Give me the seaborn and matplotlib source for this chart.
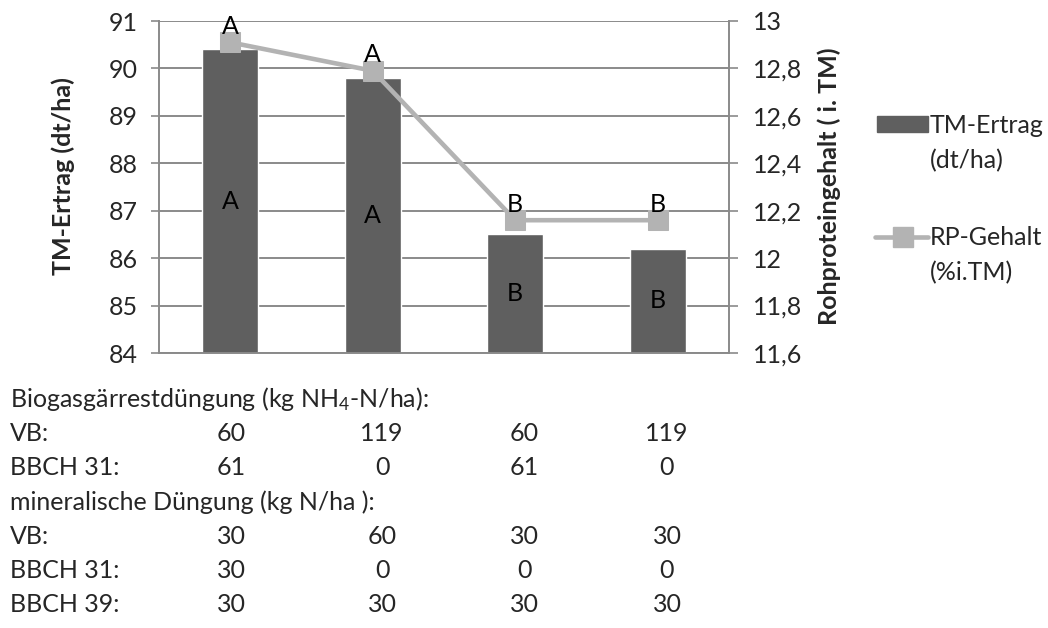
import numpy as np
import pandas as pd
import matplotlib
matplotlib.use("Agg")
import matplotlib.pyplot as plt
import seaborn as sns
from matplotlib.lines import Line2D
from matplotlib.patches import Rectangle

# --- data -------------------------------------------------------------
varianten = ["V1", "V2", "V3", "V4"]
tm_ertrag = [90.4, 89.8, 86.5, 86.2]          # dt/ha, left axis
rp_gehalt = [12.91, 12.79, 12.16, 12.16]      # % i. TM, right axis
tm_gruppen = ["A", "A", "B", "B"]
rp_gruppen = ["A", "A", "B", "B"]

links_ticks = [84, 85, 86, 87, 88, 89, 90, 91]
rechts_ticks = [11.6, 11.8, 12.0, 12.2, 12.4, 12.6, 12.8, 13.0]

# fertilisation scheme printed under the chart
bio_titel = "Biogasgärrestdüngung (kg $\\mathregular{NH_4}$-N/ha):"
bio_vb = [60, 119, 60, 119]
bio_bbch31 = [61, 0, 61, 0]
min_titel = "mineralische Düngung (kg N/ha ):"
min_vb = [30, 60, 30, 30]
min_bbch31 = [30, 0, 0, 0]
min_bbch39 = [30, 30, 30, 30]

# --- style ------------------------------------------------------------
W, H = 1048, 628
FONT = "Lato"
FS = 18
BAR_C = "#5f5f5f"
LINE_C = "#b3b3b3"
GRID_C = "#8a8a8a"

sns.set_theme(style="white")
plt.rcParams["font.family"] = [FONT, "DejaVu Sans"]
plt.rcParams["mathtext.fontset"] = "custom"
plt.rcParams["mathtext.rm"] = FONT
plt.rcParams["font.size"] = FS


def fx(px):
    return px / W


def fy(py):
    return 1 - py / H


fig = plt.figure(figsize=(W / 100, H / 100), dpi=100)
ax = fig.add_axes([fx(159), fy(353), fx(570), 332 / H])

df = pd.DataFrame({"Variante": varianten, "TM": tm_ertrag})
sns.barplot(data=df, x="Variante", y="TM", color=BAR_C, saturation=1,
            width=0.39, ax=ax, zorder=2)
ax.set_ylim(84, 91)
ax.set_yticks(links_ticks)
ax.set_yticklabels([str(t) for t in links_ticks])
ax.set_xlim(-0.5, 3.5)
ax.set_xticks([])
ax.set_xlabel("")
ax.set_ylabel("TM-Ertrag (dt/ha)", fontweight="bold", fontsize=FS)
ax.yaxis.set_label_coords(-0.147, 0.533)
ax.yaxis.grid(True, color=GRID_C, lw=1.4, zorder=0)
ax.set_axisbelow(True)
ax.tick_params(axis="y", length=5.5, width=1.2, color=GRID_C, pad=10, labelsize=FS)
for s in ["top", "right"]:
    ax.spines[s].set_visible(False)
for s in ["left", "bottom"]:
    ax.spines[s].set_color(GRID_C)
    ax.spines[s].set_linewidth(1.4)

# group letters in the middle of each bar
for i, (v, g) in enumerate(zip(tm_ertrag, tm_gruppen)):
    ax.text(i, (84 + v) / 2, g, ha="center", va="center", fontsize=FS, color="black")

# protein content on the secondary axis
ax2 = ax.twinx()
sns.lineplot(x=np.arange(len(rp_gehalt)), y=rp_gehalt, ax=ax2, color=LINE_C,
             lw=3.3, marker="s", markersize=14, markeredgecolor=LINE_C,
             markerfacecolor=LINE_C, zorder=3)
ax2.set_ylim(11.6, 13.0)
ax2.set_yticks(rechts_ticks)
ax2.set_yticklabels([("%g" % t).replace(".", ",") for t in rechts_ticks])
ax2.set_xlim(-0.5, 3.5)
ax2.set_ylabel("Rohproteingehalt ( i. TM)", fontweight="bold", fontsize=FS)
ax2.yaxis.set_label_coords(1.156, 0.503)
ax2.tick_params(axis="y", length=6.5, width=1.2, color=GRID_C, pad=10.5, labelsize=FS)
for s in ["top", "left", "bottom"]:
    ax2.spines[s].set_visible(False)
ax2.spines["right"].set_color(GRID_C)
ax2.spines["right"].set_linewidth(1.4)

for i, (v, g) in enumerate(zip(rp_gehalt, rp_gruppen)):
    ax2.annotate(g, (i, v), xytext=(0, 11.5), textcoords="offset points",
                 ha="center", va="center", fontsize=FS, color="black")

# legend keys with two-line labels
fig.add_artist(Rectangle((fx(877), fy(132)), fx(51), 16 / H,
                         transform=fig.transFigure, color=BAR_C))
fig.add_artist(Line2D([fx(875), fx(928)], [fy(237), fy(237)],
                      transform=fig.transFigure, color=LINE_C, lw=3.3))
fig.add_artist(Line2D([fx(903)], [fy(237)], transform=fig.transFigure,
                      marker="s", markersize=14, color=LINE_C))
fig.text(fx(930), fy(133), "TM-Ertrag", fontsize=FS, va="baseline")
fig.text(fx(930), fy(168), "(dt/ha)", fontsize=FS, va="baseline")
fig.text(fx(930), fy(245), "RP-Gehalt", fontsize=FS, va="baseline")
fig.text(fx(930), fy(280), "(%i.TM)", fontsize=FS, va="baseline")

# fertilisation table
spalten_x = [231, 382, 524, 667]
zeilen = [
    (bio_titel, None),
    ("VB:", bio_vb),
    ("BBCH 31:", bio_bbch31),
    (min_titel, None),
    ("VB:", min_vb),
    ("BBCH 31:", min_bbch31),
    ("BBCH 39:", min_bbch39),
]
for r, (label, werte) in enumerate(zeilen):
    base = 407 + r * 34.2
    fig.text(fx(10), fy(base), label, fontsize=FS, va="baseline", ha="left")
    if werte is not None:
        for x, w in zip(spalten_x, werte):
            fig.text(fx(x), fy(base), str(w), fontsize=FS, va="baseline", ha="center")

fig.savefig("out.png", dpi=100)
